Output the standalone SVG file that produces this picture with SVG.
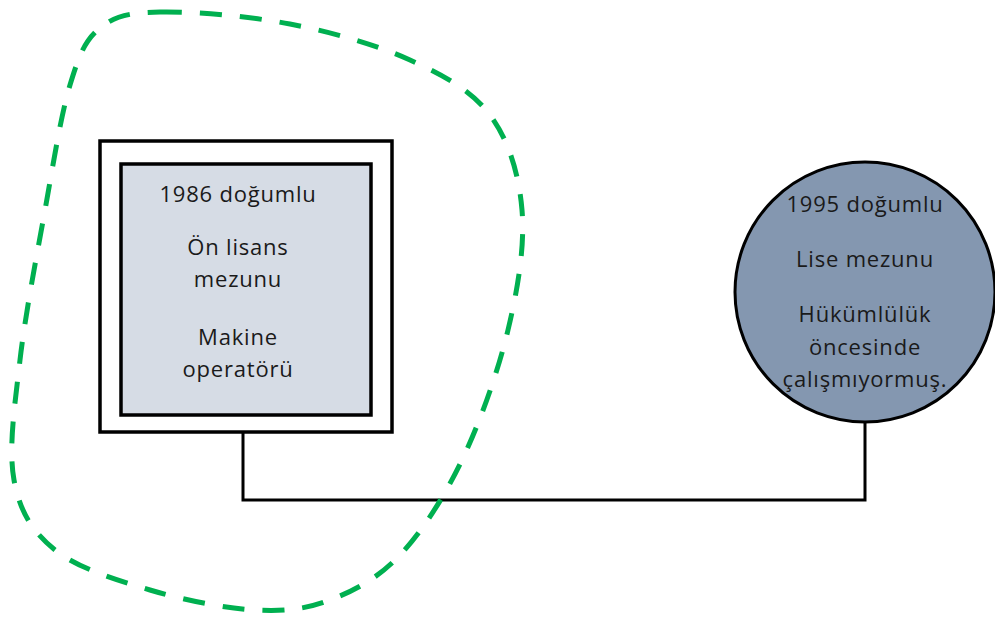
<svg xmlns="http://www.w3.org/2000/svg" width="995" height="619" viewBox="0 0 995 619">
<style>
.t{font-family:"Open Sans","Liberation Sans",sans-serif;font-size:22px;fill:#1a1a1a;text-anchor:middle;letter-spacing:0.8px}
.ln{fill:none;stroke:#000;stroke-width:3}
</style>
<rect width="995" height="619" fill="#fff"/>
<g id="connectors">
<path class="ln" d="M243,415 V500 H865 V423"/>
</g>
<g id="node-1986">
<rect x="100" y="141" width="292" height="291" fill="#fff" stroke="#000" stroke-width="3.5"/>
<rect x="121" y="164" width="250" height="251" fill="#d6dce5" stroke="#000" stroke-width="3.5"/>
<text class="t" x="238" y="202">1986 doğumlu</text>
<text class="t" x="238" y="255">Ön lisans</text>
<text class="t" x="238" y="287">mezunu</text>
<text class="t" x="238" y="345">Makine</text>
<text class="t" x="238" y="377">operatörü</text>
</g>
<g id="node-1995">
<circle cx="865" cy="292" r="130" fill="#8497b0" stroke="#000" stroke-width="3"/>
<text class="t" x="865" y="212">1995 doğumlu</text>
<text class="t" x="865" y="267">Lise mezunu</text>
<text class="t" x="865" y="322">Hükümlülük</text>
<text class="t" x="865" y="355">öncesinde</text>
<text class="t" x="865" y="387">çalışmıyormuş.</text>
</g>
<g id="boundary">
<path fill="none" stroke="#00b050" stroke-width="5" stroke-dasharray="22 18" d="M160,12 C191.7,11.3 248.3,16 290,24 C331.7,32 376.7,44.8 410,60 C443.3,75.2 471.3,90 490,115 C508.7,140 519,174.2 522,210 C525,245.8 518,288.3 508,330 C498,371.7 480,422.5 462,460 C444,497.5 422,531.7 400,555 C378,578.3 354.2,590.8 330,600 C305.8,609.2 285,611.7 255,610 C225,608.3 183.3,600 150,590 C116.7,580 77.7,568.3 55,550 C32.3,531.7 19.8,511.7 14,480 C8.2,448.3 14.8,405 20,360 C25.2,315 36.7,255.8 45,210 C53.3,164.2 60.8,115.3 70,85 C79.2,54.7 85,40.2 100,28 C115,15.8 128.3,12.7 160,12 Z"/>
</g>
</svg>
